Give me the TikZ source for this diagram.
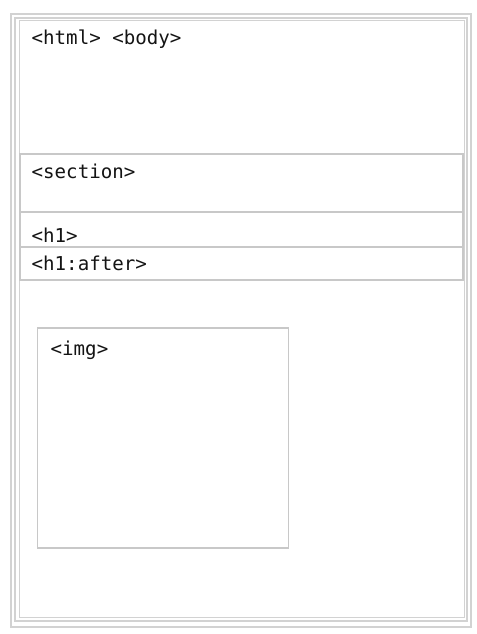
\documentclass[tikz,border=0pt]{standalone}
\usepackage{fontspec}
\newfontfamily\boxmono{DejaVu Sans Mono}
\definecolor{boxline}{HTML}{C8C8C8}
\definecolor{frameline}{HTML}{D2D2D2}
\definecolor{tagtext}{HTML}{141414}
\begin{document}
\begin{tikzpicture}[x=1bp,y=-1bp,
  tag/.style={anchor=base west,inner sep=0pt,text=tagtext,font=\boxmono\fontsize{19.2}{21}\selectfont},
  framebox/.style={draw=frameline,line width=1.6bp},
  elbox/.style={draw=boxline,line width=1.2bp}]
\useasboundingbox[fill=white] (0,0) rectangle (477,634);
% html/body frame
\draw[framebox] (11,14) rectangle (471,627);
\draw[framebox] (15,18) rectangle (467,621);
\draw[framebox,line width=1bp] (19,21) rectangle (464,617);
% section, h1, h1:after
\draw[elbox] (20,154) rectangle (463,212);
\draw[elbox] (20,212) rectangle (463,247);
\draw[elbox] (20,247) rectangle (463,280);
% img
\draw[elbox] (37.5,328) rectangle (288.5,548);
% labels
\node[tag] (html) at (31.5,45) {<html> <body>};
\node[tag] (section) at (31.5,179) {<section>};
\node[tag] (h1) at (31.5,242) {<h1>};
\node[tag] (h1after) at (31.5,270) {<h1:after>};
\node[tag] (img) at (50.5,355) {<img>};
\end{tikzpicture}
\end{document}
